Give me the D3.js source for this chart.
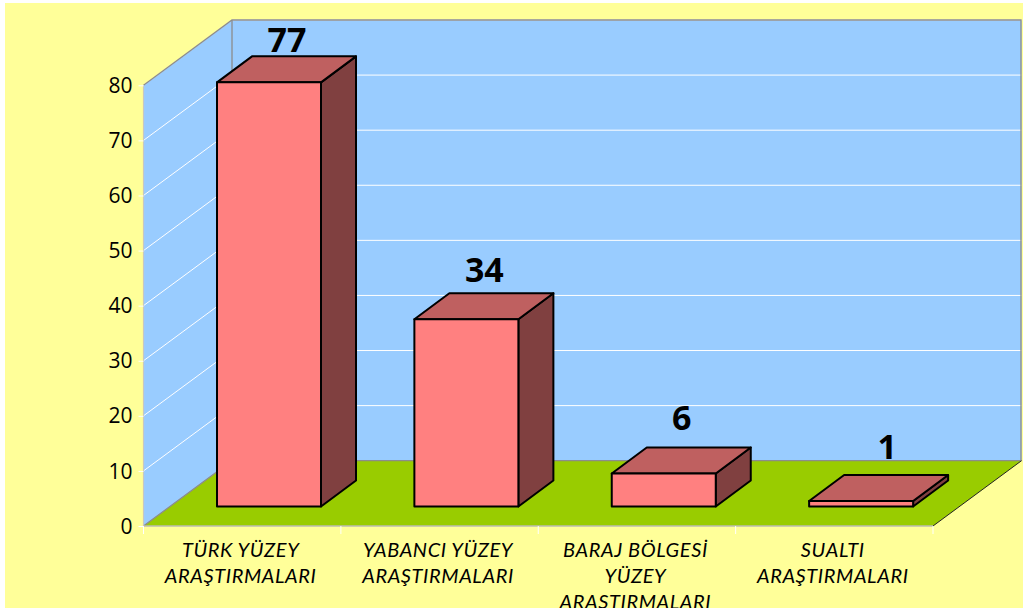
<!DOCTYPE html>
<html><head><meta charset="utf-8">
<script src="https://cdn.jsdelivr.net/npm/d3@7"></script>
<style>html,body{margin:0;padding:0;background:#fff}svg{display:block}</style>
</head><body><svg id="c" width="1023" height="615"></svg>
<script>
const categories = [["TÜRK YÜZEY","ARAŞTIRMALARI"],["YABANCI YÜZEY","ARAŞTIRMALARI"],["BARAJ BÖLGESİ","YÜZEY","ARAŞTIRMALARI"],["SUALTI","ARAŞTIRMALARI"]];
const values = [77,34,6,1];
const yTicks = [0,10,20,30,40,50,60,70,80];
const colors = {bg:"#FFFF99",wall:"#99CCFF",floor:"#99CC00",front:"#FF8080",top:"#BF6060",side:"#804040"};

const svg = d3.select("#c");
const L=143.5,R=933,Y0=526,Y80=85.3,DX=88.5,DY=-65.3;   // chart frame
const x = d3.scaleBand().domain(d3.range(categories.length)).range([L,R]);
const y = d3.scaleLinear().domain([0,80]).range([Y0,Y80]);
const barW=104, barOffX=73.5, barOffY=19.5, sideDX=35, sideDY=-26;
const poly = pts => pts.map(p=>p.join(",")).join(" ");
// value-label placement above each bar, as found in the reference
const labelLift = d3.scaleLinear().domain([1,6,34,77]).range([16,17,11,4]);
const labelNudge = d3.scaleLinear().domain([1,6]).range([8,0]).clamp(true);

svg.append("defs").append("clipPath").attr("id","pg").append("rect").attr("x",5).attr("y",3).attr("width",1018).attr("height",605);
const g = svg.append("g").attr("clip-path","url(#pg)");
g.append("rect").attr("x",5).attr("y",3).attr("width",1018).attr("height",605).attr("fill",colors.bg);

// walls + floor
g.append("polygon").attr("fill",colors.wall).attr("points",poly([[L,Y80],[L+DX,Y80+DY],[L+DX,Y0+DY],[L,Y0]]));
g.append("rect").attr("fill",colors.wall).attr("x",L+DX).attr("y",Y80+DY).attr("width",R-L).attr("height",Y0-Y80);
g.append("polygon").attr("fill",colors.floor).attr("points",poly([[L,Y0],[L+DX,Y0+DY],[R+DX,Y0+DY],[R,Y0]]));

// gridlines
yTicks.filter(d=>d>0).forEach(d=>{
  g.append("path").attr("fill","none").attr("stroke","#fff").attr("stroke-width",1)
   .attr("d",d3.line()([[L,y(d)],[L+DX,y(d)+DY],[R+DX,y(d)+DY]]));
});
// frame
const gray="#8c8c8c";
g.append("path").attr("fill","none").attr("stroke",gray).attr("stroke-width",1.3)
  .attr("d",d3.line()([[L,Y80],[L+DX,Y80+DY],[R+DX-0.5,Y80+DY],[R+DX-0.5,Y0+DY],[L+DX,Y0+DY],[L,Y0]]));
g.append("line").attr("stroke",gray).attr("stroke-width",1.3).attr("x1",L+DX).attr("x2",L+DX).attr("y1",Y80+DY).attr("y2",Y0+DY);
g.append("line").attr("stroke","#222").attr("stroke-width",1).attr("x1",R).attr("y1",Y0).attr("x2",R+DX).attr("y2",Y0+DY);

// axes lines
g.append("line").attr("stroke","#c8c8c0").attr("stroke-width",1.2).attr("x1",L).attr("x2",L).attr("y1",Y80).attr("y2",Y0);
g.append("line").attr("stroke","#bdbdb0").attr("stroke-width",1.5).attr("x1",L).attr("x2",R).attr("y1",Y0).attr("y2",Y0);

// y axis
const yAxis = g.append("g").attr("transform",`translate(${L},0)`).call(d3.axisLeft(y).tickValues(yTicks).tickSize(5).tickPadding(6));
yAxis.select(".domain").remove();
yAxis.selectAll("line").attr("stroke","#fff").attr("stroke-width",1);
yAxis.selectAll("text").attr("font-family","'Open Sans'").attr("font-size",21).attr("fill","#000").attr("dy","0.34em");

// x ticks
x.domain().concat([categories.length]).forEach(i=>{
  const px = i<categories.length ? x(i) : R;
  g.append("line").attr("stroke","#fff").attr("stroke-width",1).attr("x1",px).attr("x2",px).attr("y1",Y0).attr("y2",Y0+8);
});

// bars
const bars = g.selectAll("g.bar").data(values).join("g").attr("class","bar");
const bx = i=>x(i)+barOffX, by0=Y0-barOffY, barTop=d=>y(d)-barOffY;
const st = s=>s.attr("stroke","#000").attr("stroke-width",2).attr("stroke-linejoin","round");
bars.append("polygon").attr("fill",colors.side).call(st)
  .attr("points",(d,i)=>poly([[bx(i)+barW,by0],[bx(i)+barW,barTop(d)],[bx(i)+barW+sideDX,barTop(d)+sideDY],[bx(i)+barW+sideDX,by0+sideDY]]));
bars.append("polygon").attr("fill",colors.top).call(st)
  .attr("points",(d,i)=>poly([[bx(i),barTop(d)],[bx(i)+sideDX,barTop(d)+sideDY],[bx(i)+barW+sideDX,barTop(d)+sideDY],[bx(i)+barW,barTop(d)]]));
bars.append("rect").attr("fill",colors.front).call(st)
  .attr("x",(d,i)=>bx(i)).attr("y",d=>barTop(d)).attr("width",barW).attr("height",d=>by0-barTop(d));
bars.append("text").attr("text-anchor","middle").attr("font-family","'Open Sans'").attr("font-weight","bold").attr("font-size",34)
  .attr("x",(d,i)=>bx(i)+barW/2+18+labelNudge(d)).attr("y",d=>barTop(d)+sideDY-labelLift(d)).text(d=>d);

// category labels
categories.forEach((c,i)=>{
  const t = g.append("text").attr("text-anchor","middle").attr("font-family","Lato").attr("font-style","italic").attr("font-size",20).attr("letter-spacing",0.6).attr("fill","#000");
  c.forEach((s,j)=>t.append("tspan").attr("x",x(i)+x.bandwidth()/2-1.5).attr("y",557+j*26).text(s));
});
</script></body></html>
